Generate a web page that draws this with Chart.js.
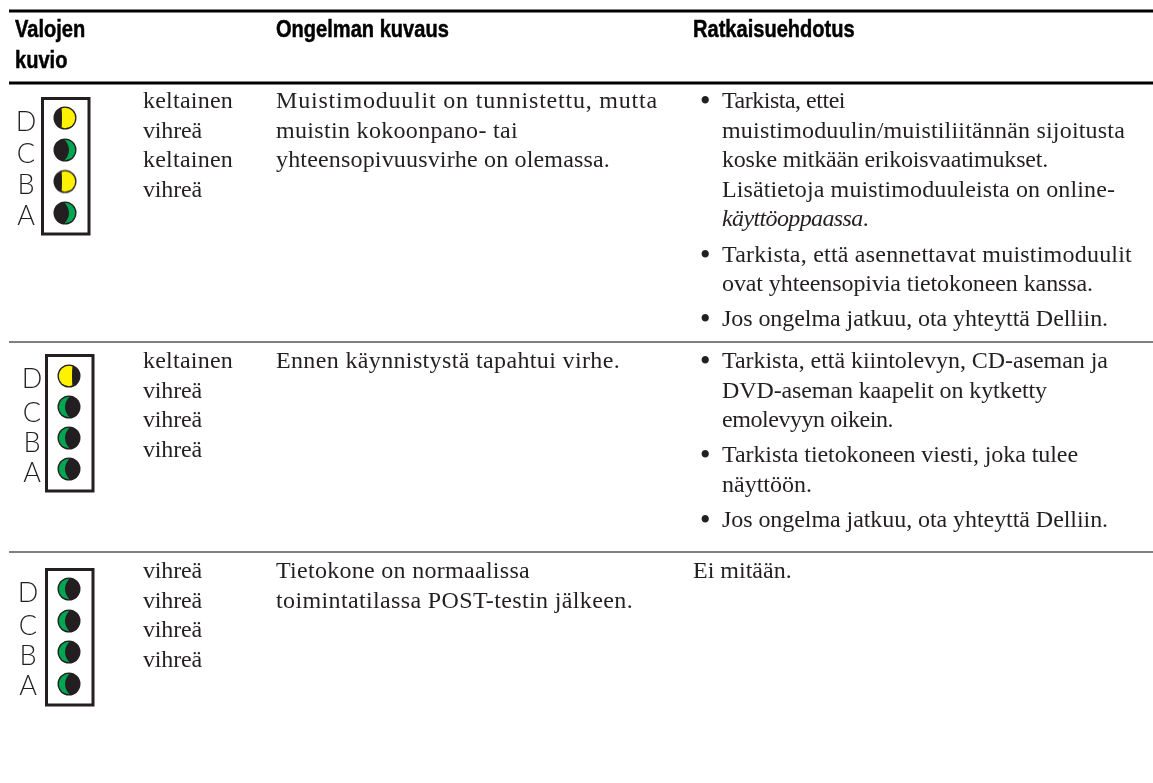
<!DOCTYPE html>
<html lang="fi">
<head>
<meta charset="utf-8">
<title>Valojen kuvio</title>
<script src="https://cdn.jsdelivr.net/npm/chart.js@4"></script>
<style>
  html, body { margin: 0; background: #fff; }
  #page { position: relative; width: 1153px; height: 783px; overflow: hidden; }
  #board { position: absolute; left: 0; top: 0; }
  .head, .cell, .tag {
    position: absolute;
    white-space: nowrap;
    color: #231f20;
  }
  .head {
    font: bold 24px/30.5px "Liberation Sans", sans-serif;
    color: #000;
    transform: scaleX(0.836);
    transform-origin: left top;
    -webkit-text-stroke: 0.5px #000;
  }
  .cell { font: 24px/29.6px "Liberation Serif", serif; }
  .ln { display: inline-block; }
  .tag {
    width: 30px;
    text-align: center;
    font: 300 27px/27px Lato, sans-serif;
  }
  .tip { position: relative; padding-left: 29px; margin-bottom: 5.6px; }
  .tip::before { content: "\2022"; position: absolute; left: 7.5px; font-weight: bold; font-size: 27px; }
  i { font-style: italic; }
</style>
</head>
<body>
<div id="page">
  <canvas id="board" width="1153" height="783"></canvas>
</div>
<script>
const headers = [['Valojen', 'kuvio'], ['Ongelman kuvaus'], ['Ratkaisuehdotus']];
const ledLetters = ['D', 'C', 'B', 'A'];

const row1Leds = ['keltainen', 'vihreä', 'keltainen', 'vihreä'];
const row2Leds = ['keltainen', 'vihreä', 'vihreä', 'vihreä'];
const row3Leds = ['vihreä', 'vihreä', 'vihreä', 'vihreä'];

const row1Problem = ['Muistimoduulit on tunnistettu, mutta', 'muistin kokoonpano- tai', 'yhteensopivuusvirhe on olemassa.'];
const row2Problem = ['Ennen käynnistystä tapahtui virhe.'];
const row3Problem = ['Tietokone on normaalissa', 'toimintatilassa POST-testin jälkeen.'];

const row1Tips = [
  ['Tarkista, ettei', 'muistimoduulin/muistiliitännän sijoitusta', 'koske mitkään erikoisvaatimukset.', 'Lisätietoja muistimoduuleista on online-', '<i>käyttöoppaassa</i>.'],
  ['Tarkista, että asennettavat muistimoduulit', 'ovat yhteensopivia tietokoneen kanssa.'],
  ['Jos ongelma jatkuu, ota yhteyttä Delliin.']
];
const row2Tips = [
  ['Tarkista, että kiintolevyn, CD-aseman ja', 'DVD-aseman kaapelit on kytketty', 'emolevyyn oikein.'],
  ['Tarkista tietokoneen viesti, joka tulee', 'näyttöön.'],
  ['Jos ongelma jatkuu, ota yhteyttä Delliin.']
];
const row3Plain = ['Ei mitään.'];

// page layout, in pixels
const pageW = 1153;
const pageH = 783;
const ruleLeft = 9;
const headRules = [11, 83];
const rowRules = [342, 552];
const rowTextTops = [86, 346, 556];
const panels = [
  { left: 42.5, right: 89, top: 98.5, bottom: 234, ledX: 65, ledYs: [118, 150, 181.5, 213], letterX: 11, letterYs: [107, 139, 170, 201], lit: 'right' },
  { left: 46.5, right: 93, top: 355.5, bottom: 491, ledX: 69, ledYs: [376, 407, 438, 469], letterX: 17, letterYs: [364, 398, 428, 458], lit: 'left' },
  { left: 46.5, right: 93, top: 569.5, bottom: 705, ledX: 69, ledYs: [589, 621, 652, 684], letterX: 13, letterYs: [578, 611, 641, 671], lit: 'left' }
];
// right end of each text line as measured, the spacing of a line is fitted to it
const ledEnds = { keltainen: 233, 'vihreä': 202 };
const problemEnds = [[658, 518, 610], [620], [530, 633]];
const tipEnds = [
  [[845, 1125, 1048, 1115, 868], [1132, 1093], [1108]],
  [[1108, 1047, 893], [1078, 812], [1108]]
];

const DARK = '#231f20';
const LED_COLOURS = { keltainen: '#fff200', 'vihreä': '#00a651' };

/**
 * Half lit lamp icon, used as the point style of the scatter points.
 */
function lampIcon(colourName, lit) {
  const c = document.createElement('canvas');
  c.width = 26;
  c.height = 26;
  const g = c.getContext('2d');
  g.translate(13, 13);
  g.fillStyle = DARK;
  g.beginPath();
  g.arc(0, 0, 11.5, 0, Math.PI * 2);
  g.fill();
  // the two colours meet on a straight-ish edge for yellow, a bulge for green
  const yellow = colourName === 'keltainen';
  const side = lit === 'right' ? 1 : -1;
  const edge = yellow ? -3.5 * side : -1 * side;
  const bulge = yellow ? 0.5 * side : 5 * side;
  g.save();
  g.beginPath();
  g.arc(0, 0, 10.2, 0, Math.PI * 2);
  g.clip();
  g.fillStyle = LED_COLOURS[colourName];
  g.beginPath();
  g.moveTo(edge, -11);
  g.quadraticCurveTo(edge + bulge * 2, 0, edge, 11);
  g.lineTo(side * 12, 11);
  g.lineTo(side * 12, -11);
  g.closePath();
  g.fill();
  g.restore();
  return c;
}

function ruleDataset(y, colour, width) {
  return {
    type: 'line',
    data: [{ x: ruleLeft, y: y }, { x: pageW, y: y }],
    borderColor: colour,
    borderWidth: width,
    pointRadius: 0
  };
}

function panelDataset(p) {
  return {
    type: 'line',
    data: [
      { x: p.left, y: p.top }, { x: p.right, y: p.top },
      { x: p.right, y: p.bottom }, { x: p.left, y: p.bottom },
      { x: p.left, y: p.top }, { x: p.right, y: p.top }
    ],
    borderColor: DARK,
    borderWidth: 3,
    borderJoinStyle: 'miter',
    pointRadius: 0
  };
}

function ledDataset(p, leds) {
  return {
    type: 'scatter',
    data: leds.map((_, i) => ({ x: p.ledX, y: p.ledYs[i] })),
    pointStyle: leds.map(name => lampIcon(name, p.lit)),
    pointRadius: 12
  };
}

const ledRows = [row1Leds, row2Leds, row3Leds];

new Chart(document.getElementById('board'), {
  type: 'scatter',
  data: {
    datasets: [
      ruleDataset(headRules[0], '#000', 3),
      ruleDataset(headRules[1], '#000', 3),
      ruleDataset(rowRules[0], '#808080', 2),
      ruleDataset(rowRules[1], '#808080', 2),
      ...panels.map(panelDataset),
      ...panels.map((p, i) => ledDataset(p, ledRows[i]))
    ]
  },
  options: {
    responsive: false,
    animation: false,
    layout: { padding: 0, autoPadding: false },
    plugins: { legend: { display: false }, tooltip: { enabled: false } },
    scales: {
      x: { type: 'linear', display: false, min: 0, max: pageW },
      y: { type: 'linear', display: false, min: 0, max: pageH, reverse: true }
    }
  }
});

// table text stays real html text on top of the canvas
const page = document.getElementById('page');

function addText(cls, left, top, html) {
  const el = document.createElement('div');
  el.className = cls;
  el.style.left = left + 'px';
  el.style.top = top + 'px';
  el.innerHTML = html;
  page.appendChild(el);
  return el;
}

function lineSpan(text, end) {
  return '<span class="ln" data-end="' + end + '">' + text + '</span>';
}

function linesHtml(lines, ends) {
  return lines.map((t, i) => lineSpan(t, ends[i])).join('<br>');
}

addText('head', 15, 14, headers[0].join('<br>'));
addText('head', 276, 14, headers[1].join('<br>'));
addText('head', 693, 14, headers[2].join('<br>'));

const problems = [row1Problem, row2Problem, row3Problem];
const tips = [row1Tips, row2Tips, null];

panels.forEach((p, r) => {
  ledLetters.forEach((letter, i) => addText('tag', p.letterX, p.letterYs[i], letter));
  addText('cell', 143, rowTextTops[r], linesHtml(ledRows[r], ledRows[r].map(n => ledEnds[n])));
  addText('cell', 276, rowTextTops[r], linesHtml(problems[r], problemEnds[r]));
  if (tips[r]) {
    const html = tips[r].map((t, j) => '<div class="tip">' + linesHtml(t, tipEnds[r][j]) + '</div>').join('');
    addText('cell', 693, rowTextTops[r], html);
  } else {
    addText('cell', 693, rowTextTops[r], row3Plain.join('<br>'));
  }
});

// fit the letter spacing so each line ends where it does in the table
document.querySelectorAll('.ln').forEach(el => {
  const box = el.getBoundingClientRect();
  const chars = el.textContent.length;
  el.style.letterSpacing = ((el.dataset.end - box.right) / chars).toFixed(3) + 'px';
});
</script>
</body>
</html>
